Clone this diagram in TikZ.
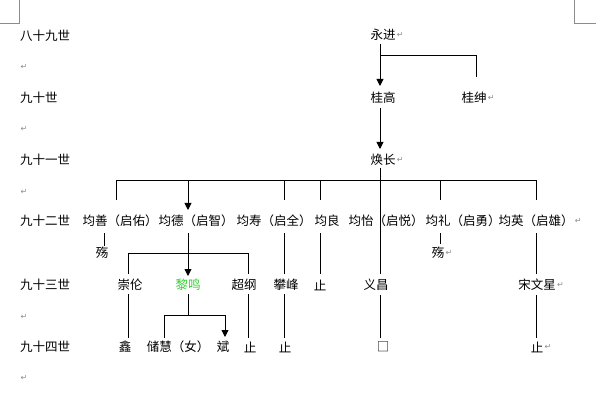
\documentclass[tikz,border=0pt]{standalone}
\usepackage{fontspec}
\usetikzlibrary{arrows.meta}
\newfontfamily\cjk{Noto Sans CJK SC}
\newfontfamily\symf{DejaVu Sans}
\definecolor{leaf}{HTML}{33CC33}
\definecolor{markgray}{HTML}{8C8C8C}
\begin{document}
\begin{tikzpicture}[x=1pt,y=-1pt,
  txt/.style={inner sep=0pt,font=\cjk\fontsize{12.5}{13}\selectfont},
  gen/.style={txt,anchor=west},
  pm/.style={inner sep=0pt,text=markgray,font=\symf\fontsize{8}{8}\selectfont},
  ln/.style={line width=0.9pt},
  arr/.style={ln,-{Triangle[width=7pt,length=7pt]}},
  crop/.style={markgray,line width=0.6pt}]
\useasboundingbox (0,0) rectangle (596,403);
% page corner marks
\draw[crop] (0,23) -- (19,23) -- (19,0);
\draw[crop] (596,23) -- (574,23) -- (574,0);
% generation labels
\node[gen] (l89) at (20,36) {八十九世};
\node[gen] (l90) at (20,98) {九十世};
\node[gen] (l91) at (20,160) {九十一世};
\node[gen] (l92) at (20,221) {九十二世};
\node[gen] (l93) at (20,285) {九十三世};
\node[gen] (l94) at (20,347) {九十四世};
% paragraph marks on the left
\foreach \yy/\nm in {67/p1,129/p2,192/p3,317/p4,378/p5}
  \node[pm] (\nm) at (24,\yy) {↵};
% names
\node[txt] (yj) at (383,35) {永进};
\node[txt] (gg) at (383,98) {桂高};
\node[txt] (gs) at (474,98) {桂绅};
\node[txt] (hc) at (383,160) {焕长};
\node[txt] (js) at (120,221) {均善（启佑）};
\node[txt] (jd) at (196,221) {均德（启智）};
\node[txt] (jsh) at (274,221) {均寿（启全）};
\node[txt] (jl) at (327,221) {均良};
\node[txt] (jy) at (386,221) {均怡（启悦）};
\node[txt] (jli) at (463,221) {均礼（启勇）};
\node[txt] (jyi) at (536,221) {均英（启雄）};
\node[txt] (s1) at (102,253) {殇};
\node[txt] (s2) at (438,253) {殇};
\node[txt] (cl) at (130,285) {崇伦};
\node[txt,text=leaf] (lm) at (188,285) {黎鸣};
\node[txt] (cg) at (244,285) {超纲};
\node[txt] (pf) at (286,285) {攀峰};
\node[txt] (z1) at (320,285) {止};
\node[txt] (yc) at (376,285) {义昌};
\node[txt] (swx) at (537,285) {宋文星};
\node[txt] (xin) at (125,347) {鑫};
\node[txt] (ch) at (178,347) {储慧（女）};
\node[txt] (bin) at (223,347) {斌};
\node[txt] (z2) at (250,347) {止};
\node[txt] (z3) at (285,347) {止};
\node[txt] (box) at (383,347) {□};
\node[txt] (z4) at (537,347) {止};
% paragraph marks after names
\node[pm,anchor=west] at ([xshift=1pt]yj.east) {↵};
\node[pm,anchor=west] at ([xshift=1pt]gs.east) {↵};
\node[pm,anchor=west] at ([xshift=1pt]hc.east) {↵};
\node[pm,anchor=west] at ([xshift=1pt]jyi.east) {↵};
\node[pm,anchor=west] at ([xshift=1pt]s2.east) {↵};
\node[pm,anchor=west] at ([xshift=1pt]swx.east) {↵};
\node[pm,anchor=west] at ([xshift=1pt]z4.east) {↵};
% 89 -> 90
\draw[arr] (380,44) -- (380,86);
\draw[ln] (380,55) -- (476,55) -- (476,77);
% 90 -> 91
\draw[arr] (380,108) -- (380,149);
% 91 -> 92
\draw[ln] (380,168) -- (380,180);
\draw[ln] (116,180) -- (536,180);
\draw[ln] (116,180) -- (116,200);
\draw[arr] (188,180) -- (188,210);
\draw[ln] (284,180) -- (284,200);
\draw[ln] (320,180) -- (320,200);
\draw[ln] (440,180) -- (440,200);
\draw[ln] (536,180) -- (536,200);
% 92 -> 殇
\draw[ln] (104,233) -- (104,246);
\draw[ln] (440,233) -- (440,244);
% 92 -> 93
\draw[arr] (188,233) -- (188,276);
\draw[ln] (128,274) -- (128,253) -- (248,253) -- (248,274);
\draw[ln] (284,233) -- (284,274);
\draw[ln] (320,233) -- (320,274);
\draw[ln] (380,180) -- (380,274);
\draw[ln] (536,233) -- (536,274);
% 93 -> 94
\draw[ln] (128,294) -- (128,338);
\draw[ln] (188,294) -- (188,315);
\draw[ln] (164,338) -- (164,315) -- (225,315);
\draw[arr] (225,315) -- (225,337);
\draw[ln] (248,294) -- (248,338);
\draw[ln] (284,294) -- (284,338);
\draw[ln] (380,295) -- (380,338);
\draw[ln] (536,295) -- (536,338);
\end{tikzpicture}
\end{document}
